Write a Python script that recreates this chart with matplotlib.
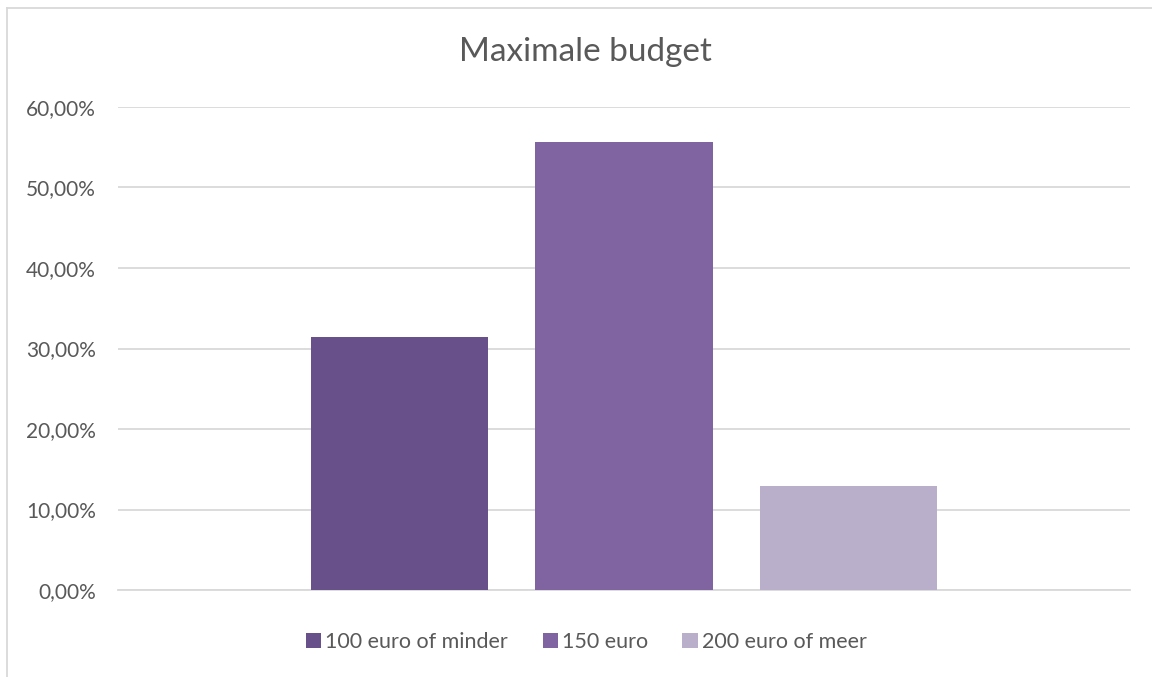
import matplotlib.pyplot as plt
from matplotlib.lines import Line2D
from matplotlib.ticker import FuncFormatter, MultipleLocator

# ── DATA ───────────────────────────────────────────────────
series = ["100 euro of minder", "150 euro", "200 euro of meer"]
values = [31.43, 55.71, 12.86]
colors = ["#68518A", "#8064A2", "#B9AFCB"]

TEXT = "#595959"
GRID = "#D9D9D9"

plt.rcParams["font.family"] = ["Lato", "DejaVu Sans"]

fig = plt.figure(figsize=(11.52, 6.77), dpi=100)
ax = fig.add_axes([118 / 1152, 1 - 590 / 677, (1130 - 118) / 1152, (590 - 107) / 677])

width = 0.175
step = 0.222
for i, (name, val, col) in enumerate(zip(series, values, colors)):
    ax.bar((i - 1) * step, val, width=width, color=col, label=name, zorder=3)

ax.set_xlim(-0.5, 0.5)
ax.set_ylim(0, 60)
ax.yaxis.set_major_locator(MultipleLocator(10))
ax.yaxis.set_major_formatter(FuncFormatter(lambda v, p: f"{v:.2f}%".replace(".", ",")))
ax.set_xticks([])
ax.grid(axis="y", color=GRID, linewidth=1.3, zorder=0)
for s in ax.spines.values():
    s.set_visible(False)
ax.spines["bottom"].set_visible(True)
ax.spines["bottom"].set_color(GRID)
ax.spines["bottom"].set_linewidth(1.3)
ax.tick_params(axis="y", length=0, pad=16, labelsize=15, labelcolor=TEXT)

fig.text(0.508, 1 - 52 / 677, "Maximale budget", ha="center", va="center",
         fontsize=24, color=TEXT)

fig.legend(loc="center", bbox_to_anchor=(0.509, 1 - 642 / 677), ncol=3, frameon=False,
           fontsize=15.5, labelcolor=TEXT, handlelength=0.7, handleheight=0.7,
           handletextpad=0.2, columnspacing=1.6)

# outer chart border (left and top)
fig.add_artist(Line2D([7 / 1152, 7 / 1152], [0, 1 - 8 / 677], color=GRID, linewidth=1.3))
fig.add_artist(Line2D([7 / 1152, 1], [1 - 8 / 677, 1 - 8 / 677], color=GRID, linewidth=1.3))

fig.savefig("out.png", dpi=100)
